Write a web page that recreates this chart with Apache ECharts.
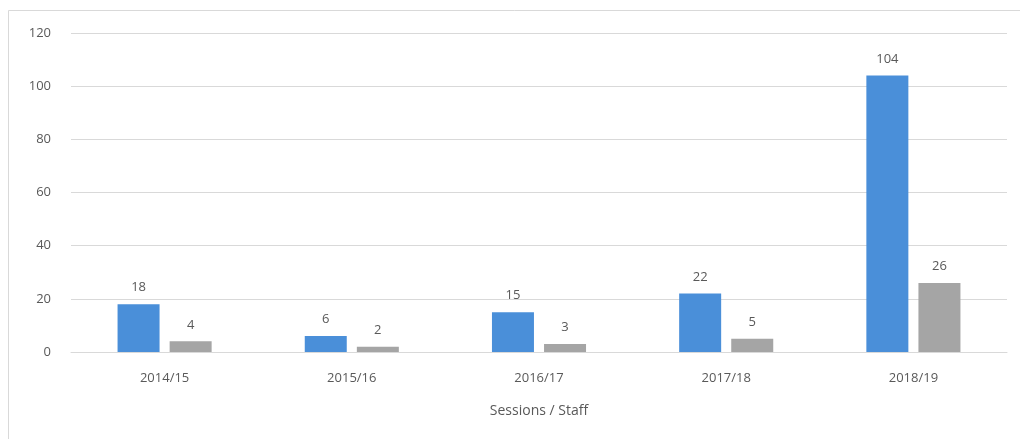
<!DOCTYPE html>
<html>
<head>
<meta charset="utf-8">
<script src="https://cdn.jsdelivr.net/npm/echarts@6/dist/echarts.min.js"></script>
<style>
  html, body { margin: 0; padding: 0; background: #ffffff; }
  #chart { width: 1020px; height: 439px; }
</style>
</head>
<body>
<div id="chart"></div>
<script>
// Sessions and staff per academic year
const categories = ['2014/15', '2015/16', '2016/17', '2017/18', '2018/19'];
const sessions = [18, 6, 15, 22, 104];
const staff = [4, 2, 3, 5, 26];
const yTicks = { min: 0, max: 120, interval: 20 };

const textColor = '#595959';
const fontFamily = '"Open Sans", "Liberation Sans", sans-serif';

const chart = echarts.init(document.getElementById('chart'), null, { renderer: 'canvas' });

const labelStyle = {
  show: true,
  position: 'top',
  distance: 10,
  color: textColor,
  fontFamily: fontFamily,
  fontSize: 13
};

chart.setOption({
  animation: false,
  backgroundColor: '#ffffff',
  graphic: [{
    type: 'rect',
    shape: { x: 8.5, y: 10.5, width: 1030, height: 440 },
    style: { fill: 'none', stroke: '#d9d9d9', lineWidth: 1 },
    silent: true
  }],
  grid: { left: 71, right: 13, top: 33, bottom: 87, containLabel: false },
  xAxis: {
    type: 'category',
    data: categories,
    name: 'Sessions / Staff',
    nameLocation: 'middle',
    nameGap: 52,
    nameTextStyle: { color: textColor, fontFamily: fontFamily, fontSize: 14 },
    axisLine: { show: true, lineStyle: { color: '#d9d9d9' } },
    axisTick: { show: false },
    axisLabel: { color: textColor, fontFamily: fontFamily, fontSize: 13, margin: 20 }
  },
  yAxis: {
    type: 'value',
    min: yTicks.min,
    max: yTicks.max,
    interval: yTicks.interval,
    axisLine: { show: false },
    axisTick: { show: false },
    splitLine: { lineStyle: { color: '#d9d9d9', width: 1 } },
    axisLabel: { color: textColor, fontFamily: fontFamily, fontSize: 13, margin: 20 }
  },
  series: [
    {
      name: 'Sessions',
      type: 'bar',
      data: sessions,
      barWidth: 42,
      barGap: '24%',
      itemStyle: { color: '#4a8fd9' },
      label: labelStyle
    },
    {
      name: 'Staff',
      type: 'bar',
      data: staff,
      barWidth: 42,
      itemStyle: { color: '#a5a5a5' },
      label: labelStyle
    }
  ]
});
</script>
</body>
</html>
